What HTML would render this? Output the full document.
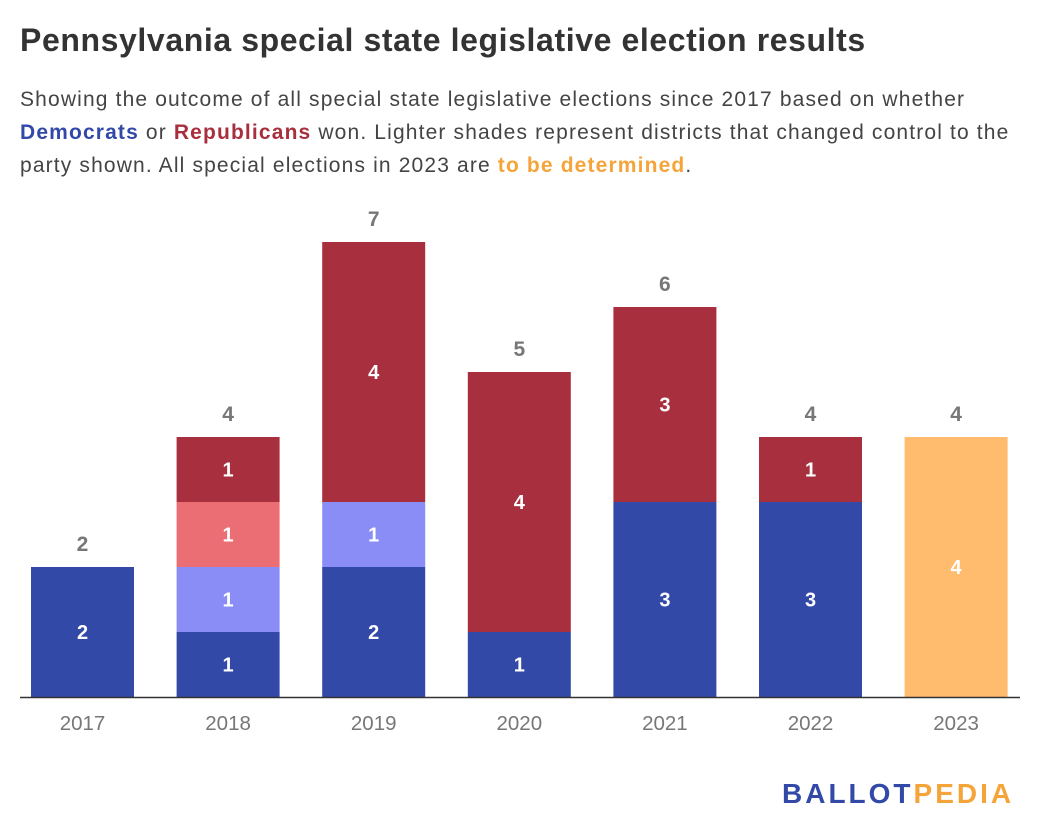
<!DOCTYPE html>
<html><head><meta charset="utf-8"><style>
body{margin:0;background:#fff;width:1040px;height:840px;overflow:hidden;font-family:"Liberation Sans",sans-serif;}
#title{position:absolute;left:20px;top:22px;font-size:32px;letter-spacing:0.6px;font-weight:bold;color:#333;margin:0;white-space:nowrap;}
#sub{position:absolute;left:20px;top:83px;width:1012px;font-size:21px;letter-spacing:1.15px;line-height:33px;color:#444;}
.d{color:#3349a8;font-weight:bold}.r{color:#a8303e;font-weight:bold}.o{color:#f5a43a;font-weight:bold}
#logo{position:absolute;left:782px;top:778px;font-size:28px;font-weight:bold;letter-spacing:3px;}
</style></head><body>
<h1 id="title">Pennsylvania special state legislative election results</h1>
<div id="sub">Showing the outcome of all special state legislative elections since 2017 based on whether <span class="d">Democrats</span> or <span class="r">Republicans</span> won. Lighter shades represent districts that changed control to the party shown. All special elections in 2023 are <span class="o">to be determined</span>.</div>
<svg id="chart" width="1040" height="840" style="position:absolute;left:0;top:0"></svg>
<div id="logo"><span style="color:#3349a8">BALLOT</span><span style="color:#f5a43a">PEDIA</span></div>
<script>
const years=["2017","2018","2019","2020","2021","2022","2023"];
const demHeld=[2,1,2,1,3,3,0];
const demFlip=[0,1,1,0,0,0,0];
const repFlip=[0,1,0,0,0,0,0];
const repHeld=[0,1,4,4,3,1,0];
const tbd=[0,0,0,0,0,0,4];
const series=[[demHeld,"#3349a8","dem-held"],[demFlip,"#8a8df5","dem-flip"],[repFlip,"#eb6e74","rep-flip"],[repHeld,"#a8303e","rep-held"],[tbd,"#ffbb6e","tbd"]];
const svg=document.getElementById('chart');const NS="http://www.w3.org/2000/svg";
const base=697,unit=65,x0=31,step=145.6,bw=103;
const y=v=>base-v*unit;const x=i=>x0+i*step;
function mk(t,a){const e=document.createElementNS(NS,t);for(const k in a)e.setAttribute(k,a[k]);svg.appendChild(e);return e;}
years.forEach((yr,i)=>{
  let cum=0;
  series.forEach(([arr,col,nm])=>{
    const v=arr[i];if(!v)return;
    const r=mk('rect',{x:x(i),y:y(cum+v),width:bw,height:v*unit,fill:col});
    
    
    const t=mk('text',{x:x(i)+bw/2,y:y(cum+v/2)+7,'text-anchor':'middle','font-size':20,'font-weight':'bold',fill:'#fff'});
    t.textContent=v;
    
    
    cum+=v;
  });
  const tt=mk('text',{x:x(i)+bw/2,y:y(cum)-16,'text-anchor':'middle','font-size':21,'font-weight':'bold',fill:'#777'});
  tt.textContent=cum;
  
  
  const yl=mk('text',{x:x(i)+bw/2,y:730,'text-anchor':'middle','font-size':20.5,fill:'#777'});
  yl.textContent=yr;
  
  
});
const ax=mk('line',{x1:20,x2:1020,y1:base+0.5,y2:base+0.5,stroke:'#333','stroke-width':1.5});


</script>
</body></html>
